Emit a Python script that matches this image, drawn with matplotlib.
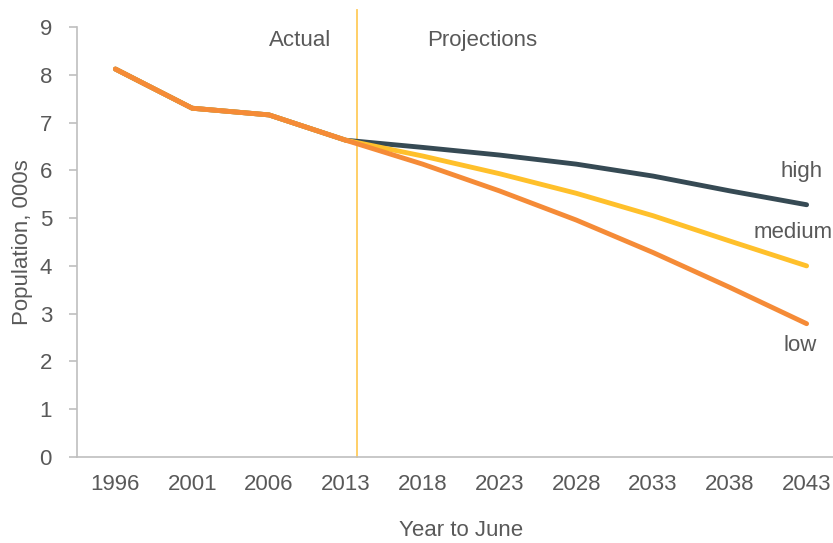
import matplotlib
matplotlib.use("Agg")
import matplotlib.pyplot as plt

plt.rcParams['font.family'] = ['Liberation Sans', 'DejaVu Sans']

years = ['1996', '2001', '2006', '2013', '2018', '2023', '2028', '2033', '2038', '2043']
high = [8.12, 7.30, 7.16, 6.63, 6.48, 6.32, 6.13, 5.88, 5.57, 5.28]
medium = [8.12, 7.30, 7.16, 6.63, 6.30, 5.93, 5.52, 5.05, 4.52, 4.00]
low = [8.12, 7.30, 7.16, 6.63, 6.13, 5.57, 4.96, 4.28, 3.55, 2.79]
series_names = ['high', 'medium', 'low']

W, H = 833, 543
fig = plt.figure(figsize=(W / 100, H / 100), dpi=100)
# axes: left spine at x=77, right edge (category 9.5) at ~845, top at y=27, bottom at y=457
left, right, top, bottom = 77, 845, 27, 457
ax = fig.add_axes([left / W, 1 - bottom / H, (right - left) / W, (bottom - top) / H])

gray = '#595959'
spine_c = '#BFBFBF'
fs = 16
x = list(range(len(years)))
ax.plot(x, high, color='#364A54', lw=3.5, solid_capstyle='round', zorder=3)
ax.plot(x, medium, color='#FFC02B', lw=3.5, solid_capstyle='round', zorder=4)
ax.plot(x, low, color='#F58B37', lw=3.5, solid_capstyle='round', zorder=5)

ax.set_xlim(-0.5, 9.5)
ax.set_ylim(0, 9)
ax.set_yticks(range(0, 10))
ax.set_xticks(x)
ax.set_xticklabels(years)

for s in ['top', 'right']:
    ax.spines[s].set_visible(False)
for s in ['left', 'bottom']:
    ax.spines[s].set_color(spine_c)
    ax.spines[s].set_linewidth(1.2)
ax.tick_params(axis='y', colors=spine_c, labelcolor=gray, labelsize=fs, length=6, width=1.2, pad=12)
ax.tick_params(axis='x', length=0, labelcolor=gray, labelsize=fs, pad=12)

# vertical divider
ax.plot([3.15, 3.15], [0, 9.35], color='#FFCC5C', lw=1.3, clip_on=False, zorder=2)

ax.text(2.4, 8.72, 'Actual', ha='center', va='center', fontsize=fs, color=gray)
ax.text(4.78, 8.72, 'Projections', ha='center', va='center', fontsize=fs, color=gray)

ax.text(8.93, 5.97, 'high', ha='center', va='center', fontsize=fs, color=gray)
ax.text(8.82, 4.70, 'medium', ha='center', va='center', fontsize=fs, color=gray)
ax.text(8.92, 2.34, 'low', ha='center', va='center', fontsize=fs, color=gray)

ax.set_ylabel('Population, 000s', fontsize=fs, color=gray, labelpad=5)
ax.set_xlabel('Year to June', fontsize=fs, color=gray, labelpad=18)

fig.savefig('out.png', dpi=100)
